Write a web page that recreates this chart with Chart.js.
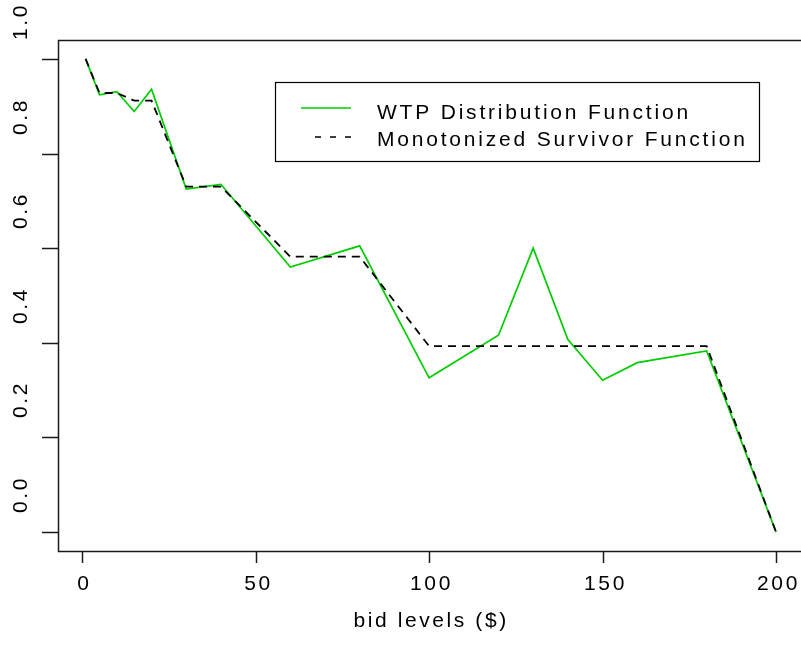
<!DOCTYPE html>
<html>
<head>
<meta charset="utf-8">
<script src="https://cdn.jsdelivr.net/npm/chart.js@4.4.1/dist/chart.umd.min.js"></script>
<style>
  html, body { margin: 0; padding: 0; background: #fff; }
  #wrap { width: 801px; height: 665px; position: relative; }
</style>
</head>
<body>
<div id="wrap"><canvas id="wtpChart" width="801" height="665"></canvas></div>
<script>
// bid levels and the two estimated curves
const bidLevels = [1, 5, 10, 15, 20, 30, 40, 60, 80, 100, 120, 130, 140, 150, 160, 180, 200];
const wtpDistribution = [1.0, 0.924, 0.931, 0.889, 0.936, 0.725, 0.735, 0.560, 0.605, 0.326, 0.416, 0.600, 0.407, 0.321, 0.358, 0.383, 0.0];
const monotonizedSurvivor = [1.0, 0.928, 0.928, 0.912, 0.912, 0.730, 0.730, 0.582, 0.582, 0.393, 0.393, 0.393, 0.393, 0.393, 0.393, 0.393, 0.0];

const seriesNames = ["WTP Distribution Function", "Monotonized Survivor Function"];
const xTicks = [0, 50, 100, 150, 200];
const yTicks = [0, 0.2, 0.4, 0.6, 0.8, 1.0];
const yTickLabels = ["0.0", "0.2", "0.4", "0.6", "0.8", "1.0"];
const xTitle = "bid levels ($)";

const GREEN = "#00cd00";
const FONT = "21px 'Liberation Sans', Arial, sans-serif";

function toPoints(values) {
    return bidLevels.map((b, i) => ({ x: b, y: values[i] }));
}

// axes, box and legend drawn in the style of a base R plot
const rAxes = {
    id: "rAxes",
    afterDraw(chart) {
        const ctx = chart.ctx;
        const xs = chart.scales.x;
        const ys = chart.scales.y;
        const area = chart.chartArea;

        ctx.save();
        ctx.strokeStyle = "#1a1a1a";
        ctx.lineWidth = 1.5;

        // plot box (right side runs off the canvas)
        ctx.beginPath();
        ctx.moveTo(chart.width, area.top + 0.5);
        ctx.lineTo(area.left + 0.5, area.top + 0.5);
        ctx.lineTo(area.left + 0.5, area.bottom + 0.5);
        ctx.lineTo(chart.width, area.bottom + 0.5);
        ctx.stroke();

        ctx.fillStyle = "#000";
        ctx.font = FONT;
        ctx.letterSpacing = "2.6px";

        // x ticks
        xTicks.forEach((v) => {
            const px = Math.round(xs.getPixelForValue(v)) + 0.5;
            ctx.beginPath();
            ctx.moveTo(px, area.bottom);
            ctx.lineTo(px, area.bottom + 12);
            ctx.stroke();
            ctx.textAlign = "center";
            ctx.textBaseline = "middle";
            ctx.fillText(String(v), px + 2, 584);
        });

        // y ticks, labels rotated
        yTicks.forEach((v, i) => {
            const py = Math.round(ys.getPixelForValue(v)) + 0.5;
            ctx.beginPath();
            ctx.moveTo(area.left - 16, py);
            ctx.lineTo(area.left, py);
            ctx.stroke();
            ctx.save();
            ctx.translate(21, py - 37);
            ctx.rotate(-Math.PI / 2);
            ctx.textAlign = "center";
            ctx.textBaseline = "middle";
            ctx.fillText(yTickLabels[i], 1, 0);
            ctx.restore();
        });

        ctx.textAlign = "center";
        ctx.textBaseline = "middle";
        ctx.fillText(xTitle, xs.getPixelForValue(100) + 2, 621);

        // legend
        ctx.lineWidth = 1.2;
        ctx.strokeStyle = "#000";
        ctx.strokeRect(275.5, 82.5, 484, 79);

        ctx.lineWidth = 1.5;
        ctx.strokeStyle = GREEN;
        ctx.beginPath();
        ctx.moveTo(301, 108);
        ctx.lineTo(351, 108);
        ctx.stroke();

        ctx.strokeStyle = "#000";
        ctx.setLineDash([6, 9]);
        ctx.beginPath();
        ctx.moveTo(315, 137);
        ctx.lineTo(351, 137);
        ctx.stroke();
        ctx.setLineDash([]);

        ctx.letterSpacing = "2.8px";
        ctx.textAlign = "left";
        ctx.textBaseline = "alphabetic";
        ctx.fillText(seriesNames[0], 377, 119);
        ctx.fillText(seriesNames[1], 377, 146);
        ctx.restore();
    },
};

new Chart(document.getElementById("wtpChart"), {
    type: "line",
    data: {
        datasets: [
            {
                label: seriesNames[1],
                data: toPoints(monotonizedSurvivor),
                borderColor: "#000",
                borderWidth: 1.8,
                borderDash: [8, 6],
                pointRadius: 0,
                tension: 0,
            },
            {
                label: seriesNames[0],
                data: toPoints(wtpDistribution),
                borderColor: GREEN,
                borderWidth: 1.7,
                pointRadius: 0,
                tension: 0,
            },
        ],
    },
    options: {
        responsive: false,
        animation: false,
        layout: {
            padding: { left: 58, top: 40, right: 1, bottom: 114 },
        },
        scales: {
            x: { type: "linear", min: -6.96, max: 206.9, display: false },
            y: { type: "linear", min: -0.04, max: 1.04, display: false },
        },
        plugins: {
            legend: { display: false },
            tooltip: { enabled: false },
        },
    },
    plugins: [rAxes],
});
</script>
</body>
</html>
